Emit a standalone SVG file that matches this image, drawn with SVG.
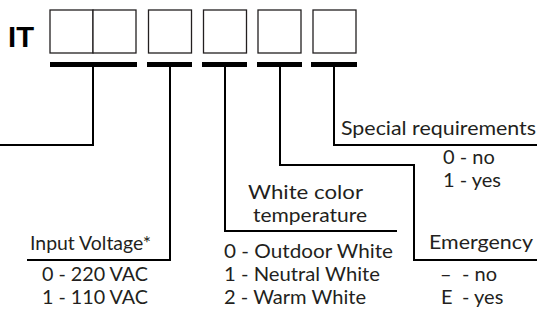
<svg xmlns="http://www.w3.org/2000/svg" width="537" height="320" viewBox="0 0 537 320">
<style>
.box{fill:#fff;stroke:#231f20;stroke-width:1.3}
.bar{fill:#000}
.conn{fill:none;stroke:#000;stroke-width:2}
.t{font-family:Lato,"Noto Sans","Liberation Sans",sans-serif;font-size:20px;fill:#231f20}
.it{font-family:"Liberation Sans",Arial,sans-serif;font-weight:bold;font-size:30px;fill:#000}
</style>
<rect width="537" height="320" fill="#fff"/>
<g id="code">
<text class="it" x="8" y="47" textLength="26" lengthAdjust="spacingAndGlyphs">IT</text>
<rect class="box" x="50" y="10" width="43" height="43"/>
<rect class="box" x="93" y="10" width="43" height="43"/>
<rect class="box" x="148.5" y="10" width="43" height="43"/>
<rect class="box" x="203.5" y="10" width="43" height="43"/>
<rect class="box" x="258" y="10" width="43" height="43"/>
<rect class="box" x="313" y="10" width="43" height="43"/>
<rect class="bar" x="50" y="62" width="87" height="5"/>
<rect class="bar" x="147" y="62" width="45" height="5"/>
<rect class="bar" x="202" y="62" width="45" height="5"/>
<rect class="bar" x="257" y="62" width="45" height="5"/>
<rect class="bar" x="311" y="62" width="46" height="5"/>
</g>
<g id="connectors">
<path class="conn" d="M93,66 V145 H0"/>
<path class="conn" d="M170,66 V260 H27"/>
<path class="conn" d="M225,66 V231 H397"/>
<path class="conn" d="M280,66 V165 H414 V260 H537"/>
<path class="conn" d="M334,66 V145 H537"/>
</g>
<g id="input-voltage">
<text class="t" x="30" y="250" textLength="121" lengthAdjust="spacingAndGlyphs">Input Voltage*</text>
<text class="t" x="42" y="281" textLength="106" lengthAdjust="spacingAndGlyphs">0 - 220 VAC</text>
<text class="t" x="42" y="304" textLength="106" lengthAdjust="spacingAndGlyphs">1 - 110 VAC</text>
</g>
<g id="white-color">
<text class="t" x="248" y="199" textLength="115" lengthAdjust="spacingAndGlyphs">White color</text>
<text class="t" x="253" y="222" textLength="114" lengthAdjust="spacingAndGlyphs">temperature</text>
<text class="t" x="224" y="258" textLength="169" lengthAdjust="spacingAndGlyphs">0 - Outdoor White</text>
<text class="t" x="224" y="281" textLength="156" lengthAdjust="spacingAndGlyphs">1 - Neutral White</text>
<text class="t" x="224" y="304" textLength="142" lengthAdjust="spacingAndGlyphs">2 - Warm White</text>
</g>
<g id="emergency">
<text class="t" x="429" y="249" textLength="104" lengthAdjust="spacingAndGlyphs">Emergency</text>
<text class="t" y="281"><tspan x="440">–</tspan><tspan x="462">- no</tspan></text>
<text class="t" y="304"><tspan x="441">E</tspan><tspan x="462">- yes</tspan></text>
</g>
<g id="special">
<text class="t" x="341" y="135" textLength="195" lengthAdjust="spacingAndGlyphs">Special requirements</text>
<text class="t" x="443" y="164">0 - no</text>
<text class="t" x="443" y="187">1 - yes</text>
</g>
</svg>
